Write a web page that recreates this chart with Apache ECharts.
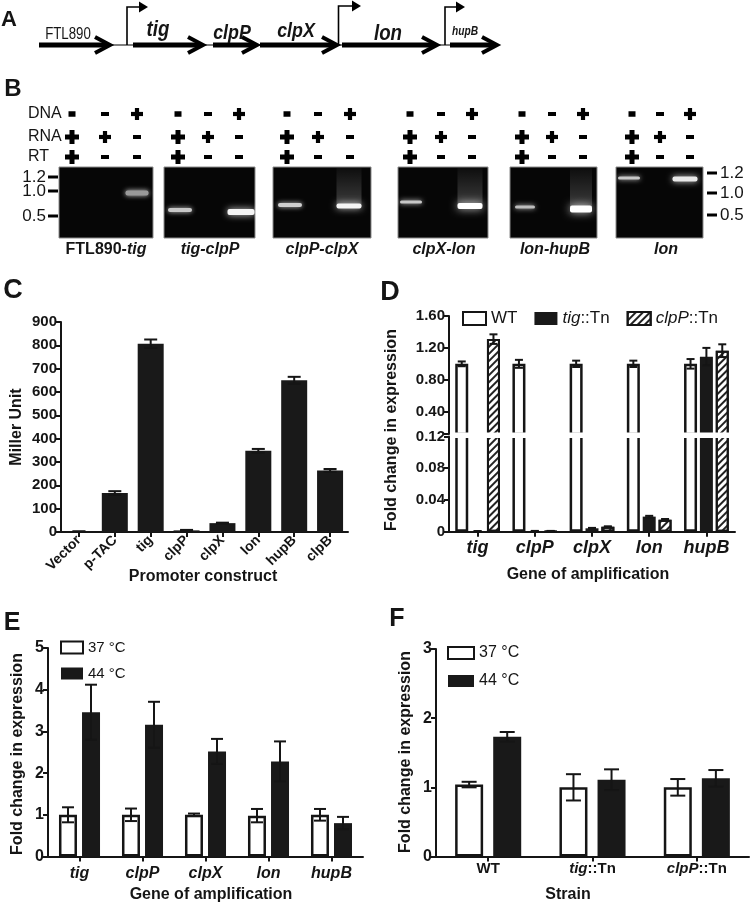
<!DOCTYPE html>
<html><head><meta charset="utf-8">
<script src="https://cdn.jsdelivr.net/npm/echarts@6/dist/echarts.min.js"></script>
<style>html,body{margin:0;padding:0;background:#fff}#c{width:750px;height:905px}</style>
</head><body><div id="c"></div>
<script>
// ---------- DATA ----------
const cCategories = ['Vector', 'p-TAC', 'tig', 'clpP', 'clpX', 'lon', 'hupB', 'clpB'];
const cValues = [2, 167, 807, 7, 38, 348, 650, 264];
const cErrors = [1, 8, 18, 2, 2, 8, 15, 6];

const dCategories = ['tig', 'clpP', 'clpX', 'lon', 'hupB'];
const dWT = [1.0, 1.0, 1.0, 1.0, 1.0];
const dWTErr = [0.03, 0.05, 0.04, 0.04, 0.06];
const dTig = [0.0006, 0.0008, 0.0043, 0.019, 1.09];
const dTigErr = [0.0002, 0.0002, 0.0005, 0.001, 0.11];
const dClpP = [1.31, 0.0008, 0.0063, 0.015, 1.165];
const dClpPErr = [0.06, 0.0002, 0.0005, 0.001, 0.08];
const dTopLabels = [0.4, 0.8, 1.2, 1.6];
const dTopTicks = [0.12, 0.4, 0.8, 1.2, 1.6];

const eCategories = ['tig', 'clpP', 'clpX', 'lon', 'hupB'];
const e37 = [1.0, 1.0, 1.0, 0.98, 1.0];
const e37Err = [0.18, 0.15, 0.03, 0.16, 0.14];
const e44 = [3.46, 3.16, 2.52, 2.28, 0.8];
const e44Err = [0.66, 0.55, 0.3, 0.48, 0.15];

const fCategories = ['WT', 'tig::Tn', 'clpP::Tn'];
const f37 = [1.04, 1.0, 1.0];
const f37Err = [0.04, 0.19, 0.12];
const f44 = [1.73, 1.11, 1.13];
const f44Err = [0.07, 0.15, 0.12];

const seriesNames = { wt: 'WT', tig: 'tig::Tn', clpP: 'clpP::Tn', t37: '37 °C', t44: '44 °C' };

// ---------- STYLE ----------
const FF = '"Liberation Sans", Arial, Helvetica, sans-serif';
const INK = '#151515';
const BAR = '#191919';

const chart = echarts.init(document.getElementById('c'), null, { renderer: 'canvas', width: 750, height: 905 });

function catAxis(gridIndex, data, label, show) {
  return {
    gridIndex, type: 'category', data, show: show !== false,
    axisLine: { show: true, lineStyle: { color: INK, width: 2 } },
    axisTick: { show: true, alignWithLabel: true, length: 5, lineStyle: { color: INK, width: 2 } },
    axisLabel: Object.assign({ color: INK, fontFamily: FF, fontWeight: 'bold', interval: 0 }, label)
  };
}
function valAxis(gridIndex, extra, label, tick) {
  return Object.assign({
    gridIndex, type: 'value', splitLine: { show: false },
    axisLine: { show: true, lineStyle: { color: INK, width: 2 } },
    axisTick: Object.assign({ show: true, length: 5, lineStyle: { color: INK, width: 2 } }, tick || {}),
    axisLabel: Object.assign({ color: INK, fontFamily: FF, fontWeight: 'bold', margin: 4 }, label)
  }, extra);
}
function errorSeries(xIdx, yIdx, vals, errs, idxs, offset, cap) {
  return {
    type: 'custom', xAxisIndex: xIdx, yAxisIndex: yIdx, z: 10, silent: true,
    data: idxs.map(i => [i, vals[i] - errs[i], vals[i] + errs[i]]),
    renderItem: function (params, api) {
      const c = api.value(0);
      const lo = api.coord([c, api.value(1)]);
      const hi = api.coord([c, api.value(2)]);
      const x = lo[0] + offset;
      const st = { stroke: INK, lineWidth: 2 };
      return { type: 'group', children: [
        { type: 'line', shape: { x1: x, y1: lo[1], x2: x, y2: hi[1] }, style: st },
        { type: 'line', shape: { x1: x - cap / 2, y1: hi[1], x2: x + cap / 2, y2: hi[1] }, style: st },
        { type: 'line', shape: { x1: x - cap / 2, y1: lo[1], x2: x + cap / 2, y2: lo[1] }, style: st }
      ] };
    }
  };
}
const whiteBar = { color: '#fff', borderColor: INK, borderWidth: 2.5 };
const blackBar = { color: BAR };
const hatchBar = {
  color: '#fff', borderColor: INK, borderWidth: 2,
  decal: { symbol: 'rect', symbolSize: 1, dashArrayX: [1, 0], dashArrayY: [1.3, 2.4], rotation: -Math.PI / 4, color: '#222' }
};
const allIdx = a => a.map((_, i) => i);
const topIdx = (v, e) => allIdx(v).filter(i => v[i] - e[i] >= 0.12);
const botIdx = (v, e) => allIdx(v).filter(i => v[i] + e[i] <= 0.12);

// ---------- SERIES ----------
const series = [];
// C
series.push({ type: 'bar', xAxisIndex: 0, yAxisIndex: 0, data: cValues, barWidth: 26, itemStyle: blackBar, silent: true });
series.push(errorSeries(0, 0, cValues, cErrors, allIdx(cValues), 0, 13));
// D (two grids: top 1, bottom 2)
const dStep = 13 * 1.22;
[1, 2].forEach(g => {
  series.push({ type: 'bar', name: seriesNames.wt, xAxisIndex: g, yAxisIndex: g, data: dWT, barWidth: 13, barGap: '22%', itemStyle: whiteBar, silent: true, clip: true });
  series.push({ type: 'bar', name: seriesNames.tig, xAxisIndex: g, yAxisIndex: g, data: dTig, barWidth: 13, barGap: '22%', itemStyle: blackBar, silent: true, clip: true });
  series.push({ type: 'bar', name: seriesNames.clpP, xAxisIndex: g, yAxisIndex: g, data: dClpP, barWidth: 13, barGap: '22%', itemStyle: hatchBar, silent: true, clip: true });
  const pick = g === 1 ? topIdx : botIdx;
  series.push(errorSeries(g, g, dWT, dWTErr, pick(dWT, dWTErr), -dStep, 8));
  series.push(errorSeries(g, g, dTig, dTigErr, pick(dTig, dTigErr), 0, 8));
  series.push(errorSeries(g, g, dClpP, dClpPErr, pick(dClpP, dClpPErr), dStep, 8));
});
// E
const eStep = 18 * 1.28;
series.push({ type: 'bar', name: seriesNames.t37, xAxisIndex: 3, yAxisIndex: 3, data: e37, barWidth: 18, barGap: '28%', itemStyle: whiteBar, silent: true });
series.push({ type: 'bar', name: seriesNames.t44, xAxisIndex: 3, yAxisIndex: 3, data: e44, barWidth: 18, barGap: '28%', itemStyle: blackBar, silent: true });
series.push(errorSeries(3, 3, e37, e37Err, allIdx(e37), -eStep / 2, 12));
series.push(errorSeries(3, 3, e44, e44Err, allIdx(e44), eStep / 2, 12));
// F
const fStep = 28 * 1.36;
series.push({ type: 'bar', name: seriesNames.t37, xAxisIndex: 4, yAxisIndex: 4, data: f37, barWidth: 28, barGap: '36%', itemStyle: whiteBar, silent: true });
series.push({ type: 'bar', name: seriesNames.t44, xAxisIndex: 4, yAxisIndex: 4, data: f44, barWidth: 28, barGap: '36%', itemStyle: blackBar, silent: true });
series.push(errorSeries(4, 4, f37, f37Err, allIdx(f37), -fStep / 2, 15));
series.push(errorSeries(4, 4, f44, f44Err, allIdx(f44), fStep / 2, 15));

// ---------- GRAPHICS (panels A, B, titles) ----------
const G = [];
function T(x, y, text, size, opts) {
  opts = opts || {};
  G.push({
    type: 'text', x, y, rotation: opts.rot || 0, scaleX: opts.sx || 1, z: 50,
    style: {
      text, fill: INK, fontFamily: FF, fontSize: size,
      fontWeight: opts.w || 'normal', fontStyle: opts.it ? 'italic' : 'normal',
      align: opts.align || 'center', verticalAlign: 'middle', rich: opts.rich
    }
  });
}
// panel letters
T(9, 20, 'A', 22, { w: 'bold' });
T(13, 89, 'B', 24, { w: 'bold' });
T(13, 291, 'C', 27, { w: 'bold' });
T(390, 293, 'D', 27, { w: 'bold' });
T(12, 623, 'E', 25, { w: 'bold' });
T(397, 619, 'F', 25, { w: 'bold' });

// Panel A: gene map
G.push({ type: 'line', shape: { x1: 108, y1: 45, x2: 452, y2: 45 }, style: { stroke: '#000', lineWidth: 1.2 } });
[[39, 110], [133, 203], [213, 257], [260, 337], [342, 437], [450, 497]].forEach(a => {
  G.push({ type: 'line', shape: { x1: a[0], y1: 45, x2: a[1] - 3, y2: 45 }, style: { stroke: '#000', lineWidth: 5 } });
  G.push({ type: 'polyline', shape: { points: [[a[1] - 15, 37], [a[1], 45], [a[1] - 15, 53]] }, style: { stroke: '#000', lineWidth: 4, fill: null } });
});
[[127, 7, 148], [338.5, 6, 361], [445, 7, 465]].forEach(p => {
  G.push({ type: 'polyline', shape: { points: [[p[0], 45], [p[0], p[1]], [p[2] - 7, p[1]]] }, style: { stroke: '#000', lineWidth: 1.6, fill: null } });
  G.push({ type: 'polygon', shape: { points: [[p[2] - 9, p[1] - 5.5], [p[2], p[1]], [p[2] - 9, p[1] + 5.5]] }, style: { fill: '#000' } });
});
T(68, 34, 'FTL890', 17, { sx: 0.78 });
T(158, 30, 'tig', 22, { w: 'bold', it: true, sx: 0.85 });
T(232, 33, 'clpP', 21, { w: 'bold', it: true, sx: 0.85 });
T(296, 31, 'clpX', 21, { w: 'bold', it: true, sx: 0.85 });
T(388, 34, 'lon', 22, { w: 'bold', it: true, sx: 0.85 });
T(465, 32, 'hupB', 12, { w: 'bold', it: true, sx: 0.85 });

// Panel B: RT-PCR gels
T(28, 114, 'DNA', 16, { align: 'left' });
T(28, 137, 'RNA', 16, { align: 'left' });
T(28, 157, 'RT', 16, { align: 'left' });
const gels = [
  { x: 59, w: 94, lanes: [72, 105, 137], label: 'FTL890-{i|tig}', lx: 106 },
  { x: 164, w: 91, lanes: [178, 208, 239], label: '{i|tig-clpP}', lx: 210 },
  { x: 273, w: 98, lanes: [287, 318, 350], label: '{i|clpP-clpX}', lx: 322 },
  { x: 398, w: 90, lanes: [410, 441, 472], label: '{i|clpX-lon}', lx: 444 },
  { x: 510, w: 87, lanes: [522, 552, 583], label: '{i|lon-hupB}', lx: 555 },
  { x: 616, w: 87, lanes: [632, 660, 690], label: '{i|lon}', lx: 666 }
];
const rowsSym = [['-', '-', '+'], ['+', '+', '-'], ['+', '-', '-']];
const rowsY = [114, 137, 157];
function plus(cx, cy, s, t) {
  G.push({ type: 'rect', shape: { x: cx - s / 2, y: cy - t / 2, width: s, height: t }, style: { fill: '#000' } });
  G.push({ type: 'rect', shape: { x: cx - t / 2, y: cy - s / 2, width: t, height: s }, style: { fill: '#000' } });
}
function minus(cx, cy, s, t) {
  G.push({ type: 'rect', shape: { x: cx - s / 2, y: cy - t / 2, width: s, height: t }, style: { fill: '#000' } });
}
gels.forEach(g => {
  rowsSym.forEach((row, r) => row.forEach((s, l) => {
    const big = l === 0;
    if (s === '+') plus(g.lanes[l], rowsY[r], big ? 14 : 12, big ? 5 : 4.2);
    else minus(g.lanes[l], rowsY[r], big && r === 0 ? 7 : 8, big && r === 0 ? 5.5 : 4);
  }));
  G.push({ type: 'rect', shape: { x: g.x, y: 167, width: g.w, height: 71 }, style: { fill: '#060606', stroke: '#8a8a8a', lineWidth: 1 } });
  T(g.lx, 250, g.label, 16, { w: 'bold', rich: { i: { fontStyle: 'italic', fontWeight: 'bold', fontSize: 16, fontFamily: FF, fill: INK } } });
});
// bands: [x center, y, width, height, color, blur, smear]
const bands = [
  [137, 193, 23, 5, '#9a9a9a', 5, 0],
  [180, 210, 24, 4, '#c8c8c8', 5, 0],
  [241, 212, 27, 6, '#f4f4f4', 7, 0],
  [290, 205, 24, 4, '#d0d0d0', 5, 0],
  [349, 206, 25, 5, '#f4f4f4', 7, 1],
  [411, 202, 22, 3, '#c8c8c8', 5, 0],
  [470, 206, 25, 6, '#ffffff', 8, 1],
  [525, 207, 20, 3, '#bdbdbd', 5, 0],
  [581, 209, 22, 7, '#ffffff', 9, 1],
  [629, 178, 22, 3, '#c8c8c8', 5, 0],
  [685, 179, 25, 5, '#e8e8e8', 6, 0]
];
bands.forEach(b => {
  if (b[6]) {
    G.push({ type: 'rect', shape: { x: b[0] - b[2] / 2, y: 168, width: b[2], height: b[1] - 168 },
      style: { fill: new echarts.graphic.LinearGradient(0, 0, 0, 1, [{ offset: 0, color: 'rgba(255,255,255,0.03)' }, { offset: 1, color: 'rgba(255,255,255,0.22)' }]) } });
  }
  G.push({ type: 'rect', shape: { x: b[0] - b[2] / 2, y: b[1] - b[3] / 2, width: b[2], height: b[3], r: 2 },
    style: { fill: b[4], shadowBlur: b[5], shadowColor: 'rgba(255,255,255,0.8)' } });
});
// size markers
[['1.2', 177], ['1.0', 191], ['0.5', 216]].forEach(m => {
  T(46, m[1], m[0], 17, { align: 'right' });
  G.push({ type: 'line', shape: { x1: 48, y1: m[1], x2: 58, y2: m[1] }, style: { stroke: '#000', lineWidth: 3 } });
});
[['1.2', 173], ['1.0', 193], ['0.5', 215]].forEach(m => {
  T(720, m[1], m[0], 17, { align: 'left' });
  G.push({ type: 'line', shape: { x1: 707, y1: m[1], x2: 717, y2: m[1] }, style: { stroke: '#000', lineWidth: 3 } });
});

// axis titles
T(17, 427, 'Miller Unit', 16, { w: 'bold', rot: Math.PI / 2 });
T(203, 577, 'Promoter construct', 16, { w: 'bold' });
T(392, 430, 'Fold change in expression', 16, { w: 'bold', rot: Math.PI / 2 });
T(588, 575, 'Gene of amplification', 16, { w: 'bold' });
T(18, 754, 'Fold change in expression', 16, { w: 'bold', rot: Math.PI / 2 });
T(211, 895, 'Gene of amplification', 16, { w: 'bold' });
T(406, 752, 'Fold change in expression', 16, { w: 'bold', rot: Math.PI / 2 });
T(568, 895, 'Strain', 16, { w: 'bold' });

// break gap in panel D
G.push({ type: 'rect', z: 100, shape: { x: 451, y: 432.6, width: 286, height: 5.3 }, style: { fill: '#fff' } });

// ---------- OPTION ----------
const italicRich = size => ({ i: { fontStyle: 'italic', fontWeight: 'normal', fontSize: size, fontFamily: FF, color: INK } });
const option = {
  animation: false,
  backgroundColor: '#fff',
  textStyle: { fontFamily: FF },
  grid: [
    { left: 61, top: 322, width: 287, height: 210 },
    { left: 449, top: 316, width: 286, height: 118 },
    { left: 449, top: 436.5, width: 286, height: 95.2 },
    { left: 48, top: 648, width: 315, height: 208.5 },
    { left: 436, top: 649, width: 313, height: 207.5 }
  ],
  xAxis: [
    catAxis(0, cCategories, { rotate: 45, fontSize: 14, margin: 6 }),
    catAxis(1, dCategories, {}, false),
    catAxis(2, dCategories, { fontSize: 18, fontStyle: 'italic', margin: 7 }),
    catAxis(3, eCategories, { fontSize: 16, fontStyle: 'italic', margin: 9 }),
    catAxis(4, fCategories, {
      fontSize: 15, margin: 5,
      formatter: v => v.indexOf('::') > 0 ? '{i|' + v.split('::')[0] + '}::' + v.split('::')[1] : v,
      rich: { i: { fontStyle: 'italic', fontWeight: 'bold', fontSize: 15, fontFamily: FF, color: INK } }
    })
  ],
  yAxis: [
    valAxis(0, { min: 0, max: 900, interval: 100 }, { fontSize: 15 }),
    valAxis(1, { min: 0.12, max: 1.6 }, { fontSize: 15, customValues: dTopLabels, formatter: v => v.toFixed(2) }, { customValues: dTopTicks }),
    valAxis(2, { min: 0, max: 0.12, interval: 0.04 }, { fontSize: 15, formatter: v => v === 0 ? '0' : v.toFixed(2) }),
    valAxis(3, { min: 0, max: 5, interval: 1 }, { fontSize: 16 }),
    valAxis(4, { min: 0, max: 3, interval: 1 }, { fontSize: 16 })
  ],
  legend: [
    {
      data: [seriesNames.wt, seriesNames.tig, seriesNames.clpP], left: 462, top: 310, padding: 0,
      itemWidth: 23, itemHeight: 13, itemGap: 17, selectedMode: false, icon: 'rect',
      textStyle: { fontSize: 17, color: INK, fontFamily: FF, rich: italicRich(17) },
      formatter: n => n.indexOf('::') > 0 ? '{i|' + n.split('::')[0] + '}::' + n.split('::')[1] : n
    },
    {
      data: [seriesNames.t37, seriesNames.t44], left: 60, top: 640, padding: 0, orient: 'vertical',
      itemWidth: 22, itemHeight: 12, itemGap: 11, selectedMode: false, icon: 'rect',
      textStyle: { fontSize: 15, color: INK, fontFamily: FF }
    },
    {
      data: [seriesNames.t37, seriesNames.t44], left: 447, top: 645, padding: 0, orient: 'vertical',
      itemWidth: 26, itemHeight: 12, itemGap: 12, selectedMode: false, icon: 'rect',
      textStyle: { fontSize: 16, color: INK, fontFamily: FF }
    }
  ],
  series: series,
  graphic: { elements: G }
};
chart.setOption(option);
</script>
</body></html>
